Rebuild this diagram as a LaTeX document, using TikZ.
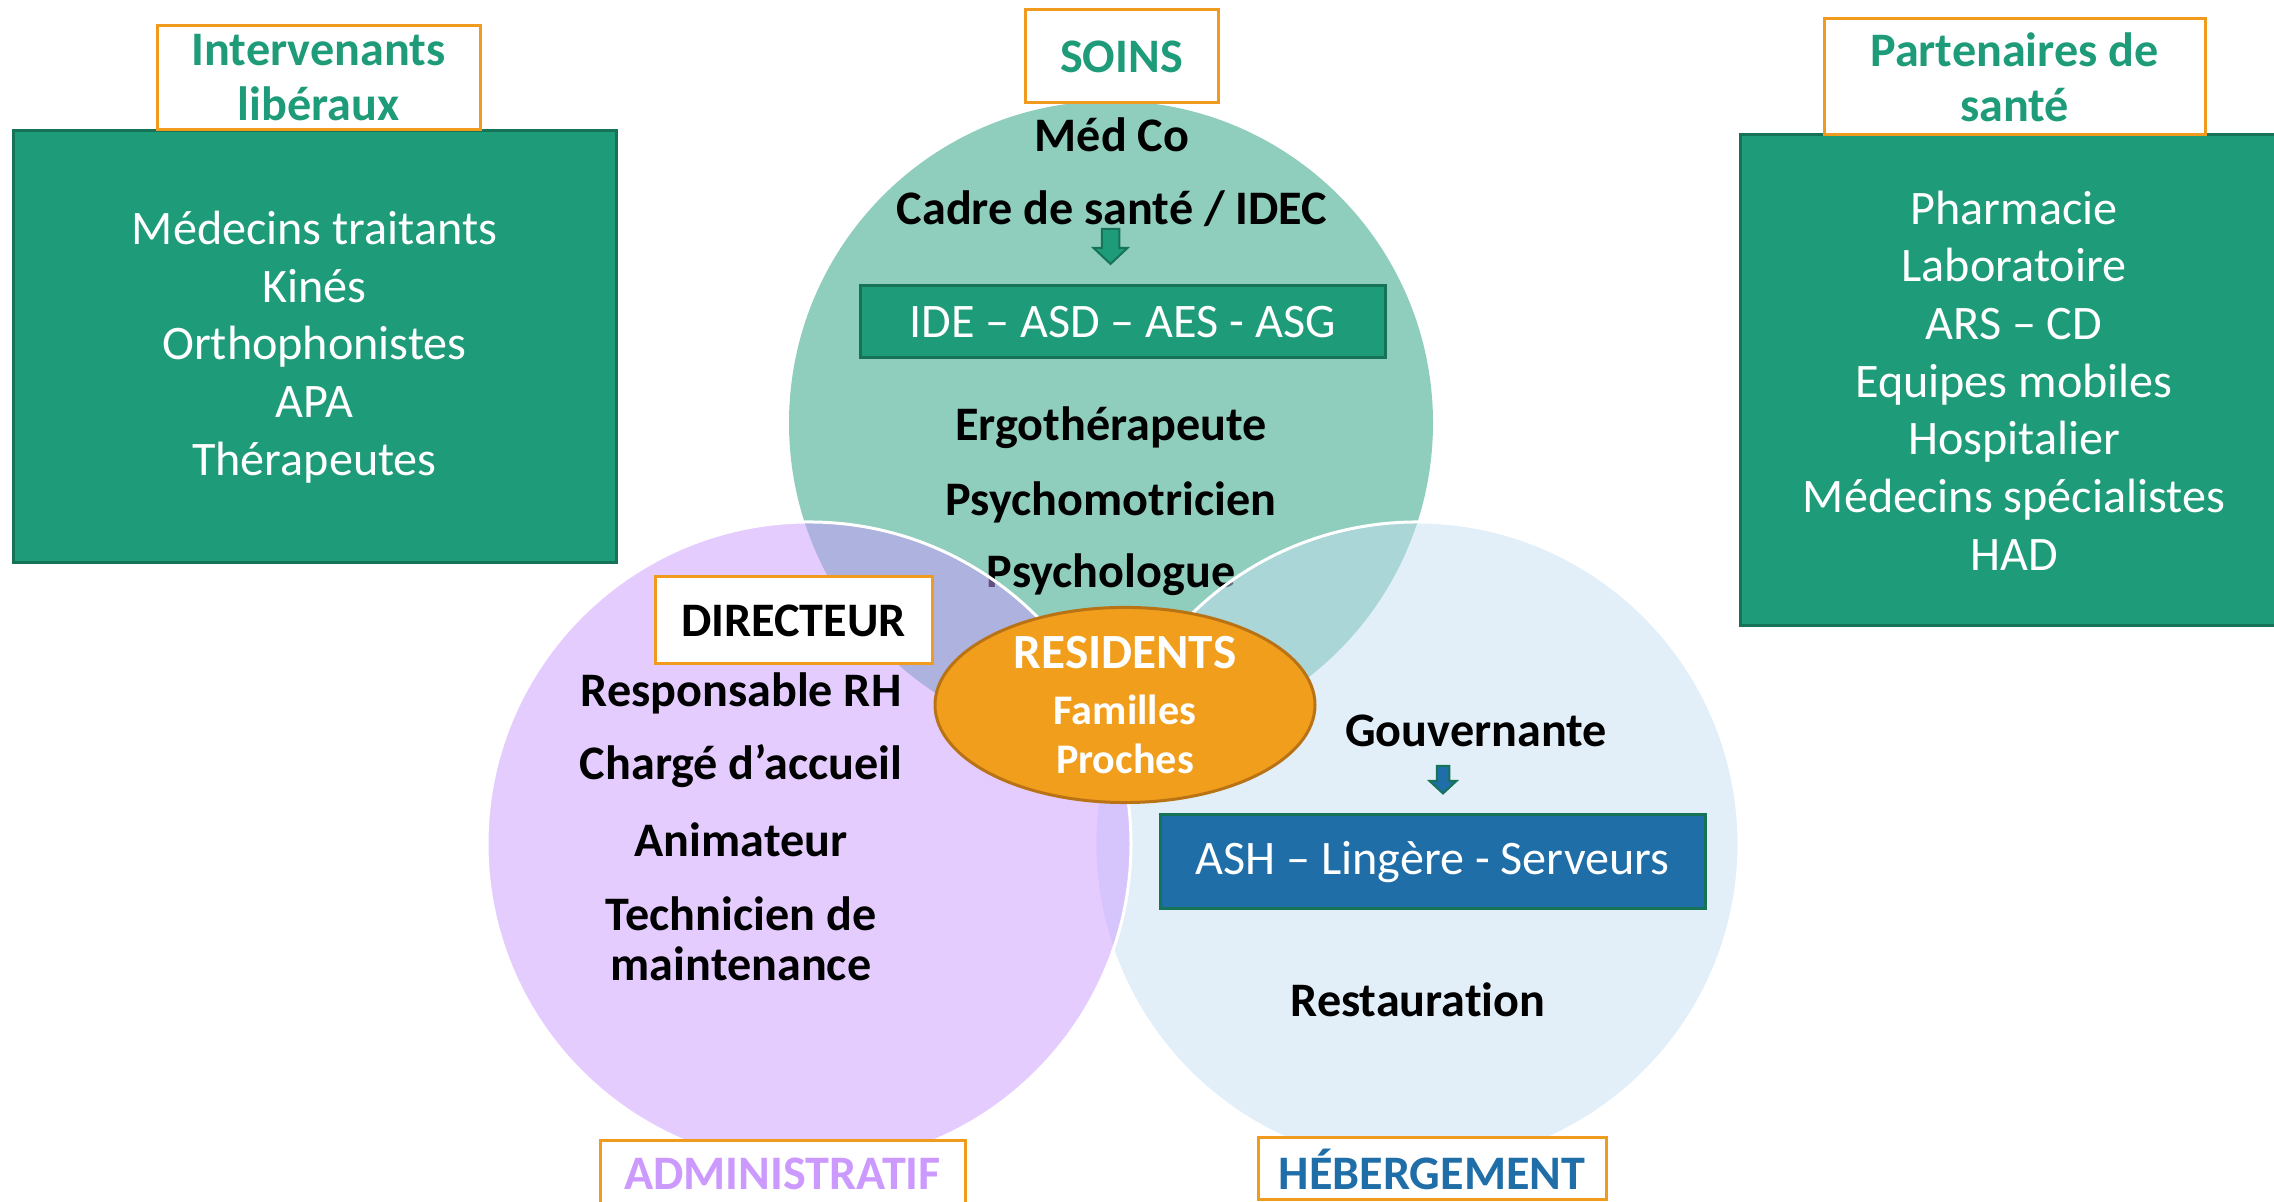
\documentclass[tikz,border=0pt]{standalone}
\usepackage{fontspec}
\setmainfont{Carlito}[Ligatures=NoCommon]
\usetikzlibrary{shapes.geometric}
\definecolor{soinsgreen}{RGB}{143,205,189}
\definecolor{boxgreen}{RGB}{30,155,120}
\definecolor{boxgreenline}{RGB}{22,115,88}
\definecolor{adminpurple}{RGB}{204,153,255}
\definecolor{hebergblue}{RGB}{197,224,244}
\definecolor{ashblue}{RGB}{31,110,168}
\definecolor{frameorange}{RGB}{240,155,30}
\definecolor{residorange}{RGB}{240,158,28}
\definecolor{residline}{RGB}{185,115,20}
\begin{document}
\begin{tikzpicture}[
    titlebox/.style={draw=frameorange, line width=0.03cm, fill=white, align=center, inner sep=0pt,
        font=\fontsize{13.7}{15.6}\selectfont\bfseries},
    greenbox/.style={draw=boxgreenline, line width=0.03cm, fill=boxgreen, text=white, align=center, inner sep=0pt,
        font=\fontsize{13.7}{16.4}\selectfont},
    staff/.style={font=\bfseries, text=black, inner sep=0pt, align=center},
    circleedge/.style={circle, draw=white, line width=0.03cm, fill opacity=0.5, minimum size=6.44cm, inner sep=0pt},
    blockarrow/.style={draw=boxgreenline, line width=0.02cm, line join=miter}]
                \clip (0,0) rectangle (22.740000,12.020000);
                {\fontsize{13.7}{16.4}\selectfont

                % Drawing box of the liberal staff
                \node [greenbox, minimum width=6.030000cm, minimum height=4.320000cm] (liberaux) at (3.145000,8.550000)
                    {Médecins traitants\\Kinés\\Orthophonistes\\APA\\Thérapeutes};%
                \node [titlebox, text=boxgreen, minimum width=3.230000cm, minimum height=1.040000cm] (liberauxtitle) at (3.185000,11.240000)
                    {Intervenants\\libéraux};%

                % Drawing box of the health partners
                \node [greenbox, minimum width=5.480000cm, minimum height=4.910000cm] (partenaires) at (20.140000,8.215000)
                    {Pharmacie\\Laboratoire\\ARS – CD\\Equipes mobiles\\Hospitalier\\Médecins spécialistes\\HAD};%
                \node [titlebox, text=boxgreen, minimum width=3.810000cm, minimum height=1.160000cm] (partenairestitle) at (20.145000,11.250000)
                    {Partenaires de\\santé};%

                % Drawing circle SOINS
                \node [circle, fill=soinsgreen, minimum size=6.440000cm, inner sep=0pt] (soinscircle) at (11.110000,7.790000) {};%
                \node [staff] (medco) at (11.120000,10.670000) {Méd Co};%
                \node [staff] (cadre) at (11.120000,9.930000) {Cadre de santé / IDEC};%
                \coordinate (soinsarrow) at (11.105000,9.730000);%
                \draw [blockarrow, fill=boxgreen] (soinsarrow) ++(-0.087500,0) -- ++(0.175000,0) -- ++(0,-0.190000)
                    -- ++(0.082500,0) -- ++(-0.170000,-0.160000) -- ++(-0.170000,0.160000) -- ++(0.082500,0) -- cycle;%
                \node [greenbox, minimum width=5.250000cm, minimum height=0.720000cm] (idebox) at (11.225000,8.800000)
                    {IDE – ASD – AES - ASG};%
                \node [staff] (ergo) at (11.110000,7.740000) {Ergothérapeute};%
                \node [staff] (psychomot) at (11.110000,7.000000) {Psychomotricien};%
                \node [staff] (psycho) at (11.110000,6.270000) {Psychologue};%

                % Drawing circle HEBERGEMENT
                \node [circleedge, fill=hebergblue] (hebergcircle) at (14.170000,3.580000) {};%

                % Drawing circle ADMINISTRATIF
                \node [circleedge, fill=adminpurple] (admincircle) at (8.090000,3.580000) {};%

                % Marking the administrative staff
                \node [titlebox, text=black, minimum width=2.770000cm, minimum height=0.870000cm] (directeur) at (7.935000,5.815000) {DIRECTEUR};%
                \node [staff] (rh) at (7.410000,5.090000) {Responsable RH};%
                \node [staff] (accueil) at (7.410000,4.360000) {Chargé d’accueil};%
                \node [staff] (animateur) at (7.410000,3.620000) {Animateur};%
                \node [staff, font=\fontsize{13.7}{14.2}\selectfont\bfseries] (technicien) at (7.410000,2.630000) {Technicien de\\maintenance};%

                % Marking the housing staff
                \node [staff] (gouvernante) at (14.760000,4.710000) {Gouvernante};%
                \coordinate (hebergarrow) at (14.430000,4.360000);%
                \draw [blockarrow, fill=ashblue] (hebergarrow) ++(-0.062500,0) -- ++(0.125000,0) -- ++(0,-0.150000)
                    -- ++(0.072500,0) -- ++(-0.135000,-0.125000) -- ++(-0.135000,0.125000) -- ++(0.072500,0) -- cycle;%
                \node [greenbox, fill=ashblue, minimum width=5.450000cm, minimum height=0.940000cm] (ashbox) at (14.325000,3.400000)
                    {ASH – Lingère - Serveurs};%
                \node [staff] (restauration) at (14.180000,2.020000) {Restauration};%

                % Drawing ellipse RESIDENTS
                \node [ellipse, draw=residline, line width=0.030000cm, fill=residorange, text=white, align=center, inner sep=0pt,
                    minimum width=3.800000cm, minimum height=1.640000cm, font=\fontsize{12}{14}\selectfont\bfseries] (residents) at (11.250000,4.970000)
                    {{\fontsize{14}{14}\selectfont RESIDENTS}\\[0.070000cm]Familles\\Proches};%

                % Marking the three titles
                \node [titlebox, text=boxgreen, minimum width=1.930000cm, minimum height=0.930000cm] (soins) at (11.215000,11.455000) {SOINS};%
                \node [titlebox, text=adminpurple, minimum width=3.650000cm, minimum height=0.660000cm] (administratif) at (7.825000,0.280000) {ADMINISTRATIF};%
                \node [titlebox, text=ashblue, minimum width=3.480000cm, minimum height=0.620000cm] (hebergement) at (14.320000,0.330000) {HÉBERGEMENT};%
                }
\end{tikzpicture}
\end{document}
